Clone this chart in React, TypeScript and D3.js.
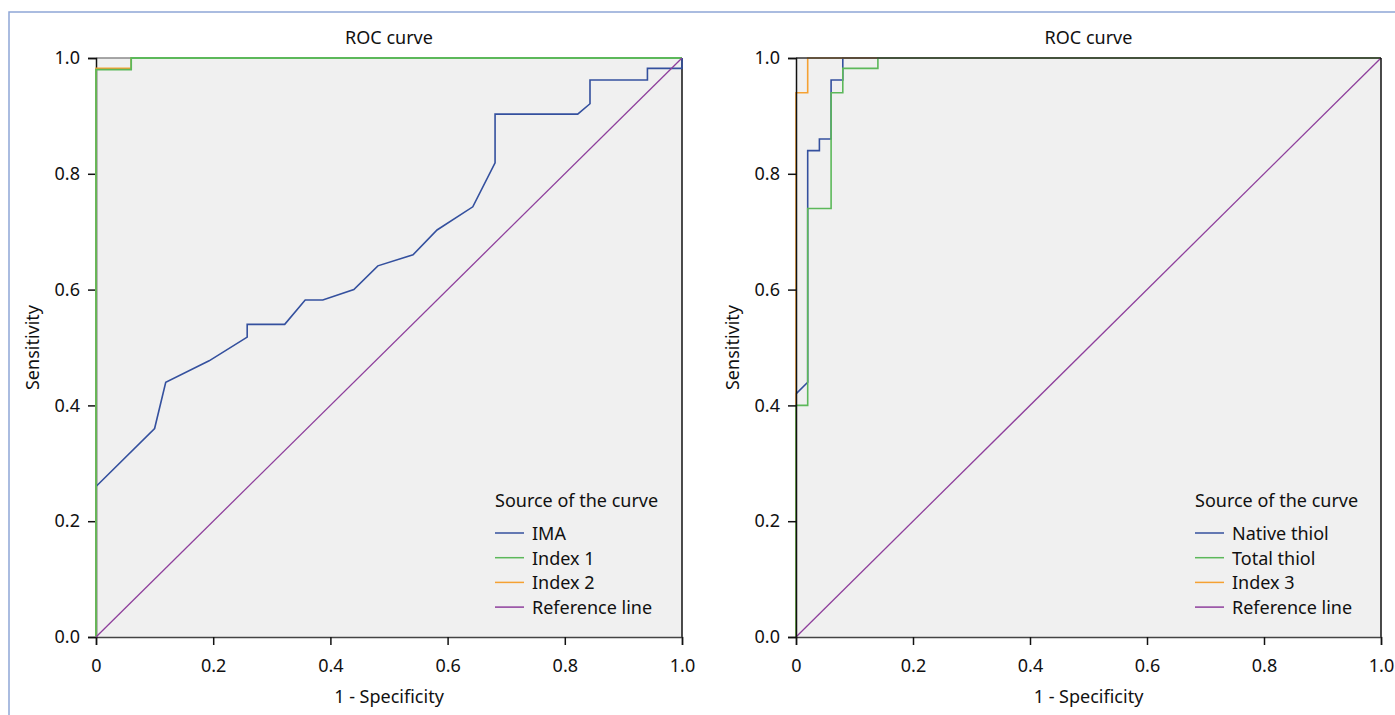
import { axisBottom, axisLeft, line, scaleLinear, select } from 'd3';
import { useEffect, useRef } from 'react';

// ROC curves, values (x = 1 - specificity, y = sensitivity)
const imaFpr = [0, 0, 0.1, 0.119, 0.193, 0.258, 0.258, 0.322, 0.357, 0.387, 0.44, 0.481, 0.541, 0.582, 0.643, 0.681, 0.681, 0.822, 0.843, 0.843, 0.941, 0.941, 1, 1];
const imaTpr = [0, 0.26, 0.36, 0.44, 0.477, 0.518, 0.54, 0.54, 0.582, 0.582, 0.6, 0.641, 0.66, 0.703, 0.743, 0.819, 0.903, 0.903, 0.921, 0.962, 0.962, 0.982, 0.982, 1];
const index1Fpr = [0, 0, 0.06, 0.06, 1];
const index1Tpr = [0, 0.98, 0.98, 1, 1];
const index2Fpr = [0, 0, 0.06, 0.06, 1];
const index2Tpr = [0, 0.982, 0.982, 1, 1];

const nativeFpr = [0, 0, 0.02, 0.02, 0.04, 0.04, 0.06, 0.06, 0.08, 0.08, 1];
const nativeTpr = [0, 0.42, 0.44, 0.84, 0.84, 0.86, 0.86, 0.962, 0.962, 1, 1];
const totalFpr = [0, 0, 0.02, 0.02, 0.06, 0.06, 0.08, 0.08, 0.14, 0.14, 1];
const totalTpr = [0, 0.4, 0.4, 0.74, 0.74, 0.94, 0.94, 0.982, 0.982, 1, 1];
const index3Fpr = [0, 0, 0.02, 0.02, 1];
const index3Tpr = [0, 0.94, 0.94, 1, 1];

const refFpr = [0, 1];
const refTpr = [0, 1];

const xTicks = [0, 0.2, 0.4, 0.6, 0.8, 1.0];
const xTickLabels = ['0', '0.2', '0.4', '0.6', '0.8', '1.0'];
const yTicks = [0, 0.2, 0.4, 0.6, 0.8, 1.0];
const yTickLabels = ['0.0', '0.2', '0.4', '0.6', '0.8', '1.0'];

const leftNames = ['IMA', 'Index 1', 'Index 2', 'Reference line'];
const rightNames = ['Native thiol', 'Total thiol', 'Index 3', 'Reference line'];

const BLUE = '#34509e';
const GREEN = '#5cb85a';
const ORANGE = '#f5a132';
const PURPLE = '#8e3f9c';
const FONT = '"Noto Sans", "Open Sans", sans-serif';

const zip = (xs, ys) => xs.map((x, i) => [x, ys[i]]);

const drawPanel = (root, left, right, curves, names, curvesOnTop, topColor) => {
  const top = 58;
  const bottom = 637;
  const x = scaleLinear().domain([0, 1]).range([left, right]);
  const y = scaleLinear().domain([0, 1]).range([bottom, top]);
  const mid = (left + right) / 2;

  const g = root.append('g');
  g.append('rect')
    .attr('x', left)
    .attr('y', top)
    .attr('width', right - left)
    .attr('height', bottom - top)
    .attr('fill', '#f0f0f0');

  const drawFrame = () => {
    g.append('line').attr('x1', left).attr('x2', right).attr('y1', top).attr('y2', top)
      .attr('stroke', topColor).attr('stroke-width', 1.5);
    g.append('line').attr('x1', right).attr('x2', right).attr('y1', top).attr('y2', bottom)
      .attr('stroke', '#111').attr('stroke-width', 1.5);
    const xAxis = g.append('g')
      .attr('transform', `translate(0,${bottom})`)
      .call(axisBottom(x).tickValues(xTicks).tickSize(8).tickPadding(14)
        .tickFormat((d, i) => xTickLabels[i]));
    xAxis.select('.domain').attr('stroke', '#444').attr('stroke-width', 1.5);
    const yAxis = g.append('g')
      .attr('transform', `translate(${left},0)`)
      .call(axisLeft(y).tickValues(yTicks).tickSize(8).tickPadding(8)
        .tickFormat((d, i) => yTickLabels[i]));
    yAxis.select('.domain').attr('stroke', '#111').attr('stroke-width', 1.5);
    [xAxis, yAxis].forEach((a) => {
      a.selectAll('.tick line').attr('stroke', '#111').attr('stroke-width', 1.5);
      a.selectAll('text').attr('font-family', FONT).attr('font-size', 18).attr('fill', '#111');
    });
  };

  const drawCurves = () => {
    const path = line().x((d) => x(d[0])).y((d) => y(d[1]));
    curves.forEach((c) => {
      g.append('path')
        .attr('d', path(zip(c.fpr, c.tpr)))
        .attr('fill', 'none')
        .attr('stroke', c.color)
        .attr('stroke-width', c.width);
    });
  };

  if (curvesOnTop) {
    drawFrame();
    drawCurves();
  } else {
    drawCurves();
    drawFrame();
  }

  g.append('text')
    .attr('x', mid).attr('y', 44)
    .attr('text-anchor', 'middle')
    .attr('font-family', FONT).attr('font-size', 18).attr('fill', '#111')
    .text('ROC curve');
  g.append('text')
    .attr('x', mid).attr('y', 703)
    .attr('text-anchor', 'middle')
    .attr('font-family', FONT).attr('font-size', 18).attr('fill', '#111')
    .text('1 - Specificity');
  g.append('text')
    .attr('transform', `translate(${left - 57},${(top + bottom) / 2}) rotate(-90)`)
    .attr('text-anchor', 'middle')
    .attr('font-family', FONT).attr('font-size', 18).attr('fill', '#111')
    .text('Sensitivity');

  // legend
  const lx = left + 399;
  const lg = g.append('g').attr('font-family', FONT).attr('font-size', 18).attr('fill', '#111');
  lg.append('text').attr('x', lx).attr('y', 507).text('Source of the curve');
  const legendColors = [BLUE, GREEN, ORANGE, PURPLE];
  names.forEach((name, i) => {
    const ly = 533 + i * 24.7;
    lg.append('line')
      .attr('x1', lx).attr('x2', lx + 29).attr('y1', ly).attr('y2', ly)
      .attr('stroke', legendColors[i]).attr('stroke-width', 1.5);
    lg.append('text').attr('x', lx + 37).attr('y', ly + 7).text(name);
  });
};

const App = () => {
  const svgRef = useRef();

  useEffect(() => {
    const svg = select(svgRef.current);
    svg.selectAll('*').remove();

    // outer border of the figure
    svg.append('rect')
      .attr('x', 9).attr('y', 12)
      .attr('width', 1400).attr('height', 720)
      .attr('fill', 'none')
      .attr('stroke', '#8fa6d6')
      .attr('stroke-width', 1.5);

    drawPanel(svg, 96, 682, [
      { fpr: imaFpr, tpr: imaTpr, color: BLUE, width: 1.6 },
      { fpr: index2Fpr, tpr: index2Tpr, color: ORANGE, width: 1.6 },
      { fpr: index1Fpr, tpr: index1Tpr, color: GREEN, width: 1.8 },
      { fpr: refFpr, tpr: refTpr, color: PURPLE, width: 1.3 },
    ], leftNames, true, '#8a8a8a');

    drawPanel(svg, 796, 1381, [
      { fpr: nativeFpr, tpr: nativeTpr, color: BLUE, width: 1.6 },
      { fpr: index3Fpr, tpr: index3Tpr, color: ORANGE, width: 1.6 },
      { fpr: totalFpr, tpr: totalTpr, color: GREEN, width: 1.6 },
      { fpr: refFpr, tpr: refTpr, color: PURPLE, width: 1.3 },
    ], rightNames, false, '#333');
  }, []);

  return (
    <svg
      ref={svgRef}
      width={1395}
      height={715}
      style={{ position: 'absolute', left: 0, top: 0, background: '#fff' }}
    />
  );
};

export default App;
